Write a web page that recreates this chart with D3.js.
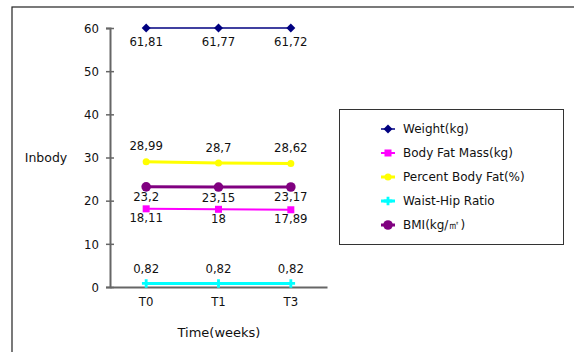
<!DOCTYPE html>
<html><head><meta charset="utf-8">
<script src="https://cdn.jsdelivr.net/npm/d3@7"></script>
<style>html,body{margin:0;padding:0;background:#fff;overflow:hidden}</style>
</head><body>
<svg id="c" width="574" height="352"></svg>
<script>
const categories = ["T0", "T1", "T3"];
const seriesNames = ["Weight(kg)", "Body Fat Mass(kg)", "Percent Body Fat(%)", "Waist-Hip Ratio", "BMI(kg/㎡)"];
const weight = [61.81, 61.77, 61.72];
const bodyFatMass = [18.11, 18, 17.89];
const percentBodyFat = [28.99, 28.7, 28.62];
const waistHip = [0.82, 0.82, 0.82];
const bmi = [23.2, 23.15, 23.17];
const yTicks = [0, 10, 20, 30, 40, 50, 60];

const series = [
  {name: seriesNames[0], values: weight, color: "#000080", lw: 1.5, marker: "diamond", labelDy: 14},
  {name: seriesNames[1], values: bodyFatMass, color: "#ff00ff", lw: 2, marker: "square", labelDy: 10},
  {name: seriesNames[2], values: percentBodyFat, color: "#ffff00", lw: 3, marker: "smallcircle", labelDy: -15},
  {name: seriesNames[3], values: waistHip, color: "#00ffff", lw: 3, marker: "smallsquare", labelDy: -14},
  {name: seriesNames[4], values: bmi, color: "#800080", lw: 3, marker: "circle", labelDy: 11}
];

const svg = d3.select("#c");
// outer chart border (cropped: only top and left visible)
svg.append("rect").attr("x", 12).attr("y", 7).attr("width", 600).attr("height", 400)
  .attr("fill", "none").attr("stroke", "#222").attr("stroke-width", 1.2);

const x = d3.scaleBand().domain(categories).range([110, 327]);
const y = d3.scaleLinear().domain([0, 60]).range([287, 28]).clamp(true);
const cx = c => x(c) + x.bandwidth() / 2;

const axisColor = "#666";
// y axis
const ya = svg.append("g").attr("transform", "translate(110,0)")
  .call(d3.axisLeft(y).tickValues(yTicks).tickSize(4).tickPadding(7).tickFormat(d3.format("d")));
ya.select(".domain").attr("stroke", axisColor).attr("stroke-width", 2);
ya.selectAll(".tick line").attr("stroke", axisColor).attr("stroke-width", 1.5).attr("x1", 4).attr("x2", -4);
ya.selectAll(".tick text").attr("font-family", "DejaVu Sans Condensed").attr("font-size", 13).attr("fill", "#111");

// x axis
const xa = svg.append("g").attr("transform", "translate(0,287)")
  .call(d3.axisBottom(x).tickSize(0).tickPadding(10));
xa.select(".domain").attr("stroke", axisColor).attr("stroke-width", 2);
xa.selectAll(".tick text").attr("font-family", "DejaVu Sans Condensed").attr("font-size", 13).attr("fill", "#111");

// axis titles
svg.append("text").attr("x", 46).attr("y", 158).attr("text-anchor", "middle").attr("dominant-baseline", "middle")
  .attr("font-family", "DejaVu Sans").attr("font-size", 12.5).attr("fill", "#111").text("Inbody");
svg.append("text").attr("x", 219).attr("y", 333).attr("text-anchor", "middle").attr("dominant-baseline", "middle")
  .attr("font-family", "DejaVu Sans").attr("font-size", 13).attr("fill", "#111").text("Time(weeks)");

function drawMarker(g, type, color) {
  if (type === "diamond") {
    g.append("path").attr("d", d3.symbol().type(d3.symbolSquare).size(40)()).attr("transform", "rotate(45)").attr("fill", color);
  } else if (type === "square") {
    g.append("rect").attr("x", -3.5).attr("y", -3.5).attr("width", 7).attr("height", 7).attr("fill", color);
  } else if (type === "smallcircle") {
    g.append("circle").attr("r", 3.5).attr("fill", color);
  } else if (type === "smallsquare") {
    g.append("path").attr("d", d3.symbol().type(d3.symbolCross).size(40)()).attr("fill", color);
  } else if (type === "circle") {
    g.append("circle").attr("r", 4.8).attr("fill", color);
  }
}

const line = d3.line().x((d, i) => cx(categories[i])).y(d => y(d));
series.forEach(s => {
  svg.append("path").datum(s.values).attr("d", line).attr("fill", "none")
    .attr("stroke", s.color).attr("stroke-width", s.lw);
});
series.forEach(s => {
  s.values.forEach((v, i) => {
    const g = svg.append("g").attr("transform", `translate(${cx(categories[i])},${y(v)})`);
    drawMarker(g, s.marker, s.color);
  });
});
// data labels
series.forEach(s => {
  s.values.forEach((v, i) => {
    svg.append("text").attr("x", cx(categories[i])).attr("y", y(v) + s.labelDy)
      .attr("text-anchor", "middle").attr("dominant-baseline", "middle")
      .attr("font-family", "DejaVu Sans Condensed").attr("font-size", 13).attr("fill", "#111")
      .text(String(v).replace(".", ","));
  });
});

// legend
svg.append("rect").attr("x", 339.5).attr("y", 109.5).attr("width", 224).attr("height", 135)
  .attr("fill", "#fff").attr("stroke", "#333").attr("stroke-width", 1);
series.forEach((s, i) => {
  const ly = 129 + i * 24;
  svg.append("line").attr("x1", 381).attr("x2", 395).attr("y1", ly).attr("y2", ly)
    .attr("stroke", s.color).attr("stroke-width", s.lw);
  const g = svg.append("g").attr("transform", `translate(388,${ly})`);
  drawMarker(g, s.marker, s.color);
  svg.append("text").attr("x", 403).attr("y", ly).attr("dominant-baseline", "middle")
    .attr("font-family", "DejaVu Sans").attr("font-size", 12).attr("fill", "#111").text(s.name);
});
</script>
</body></html>
